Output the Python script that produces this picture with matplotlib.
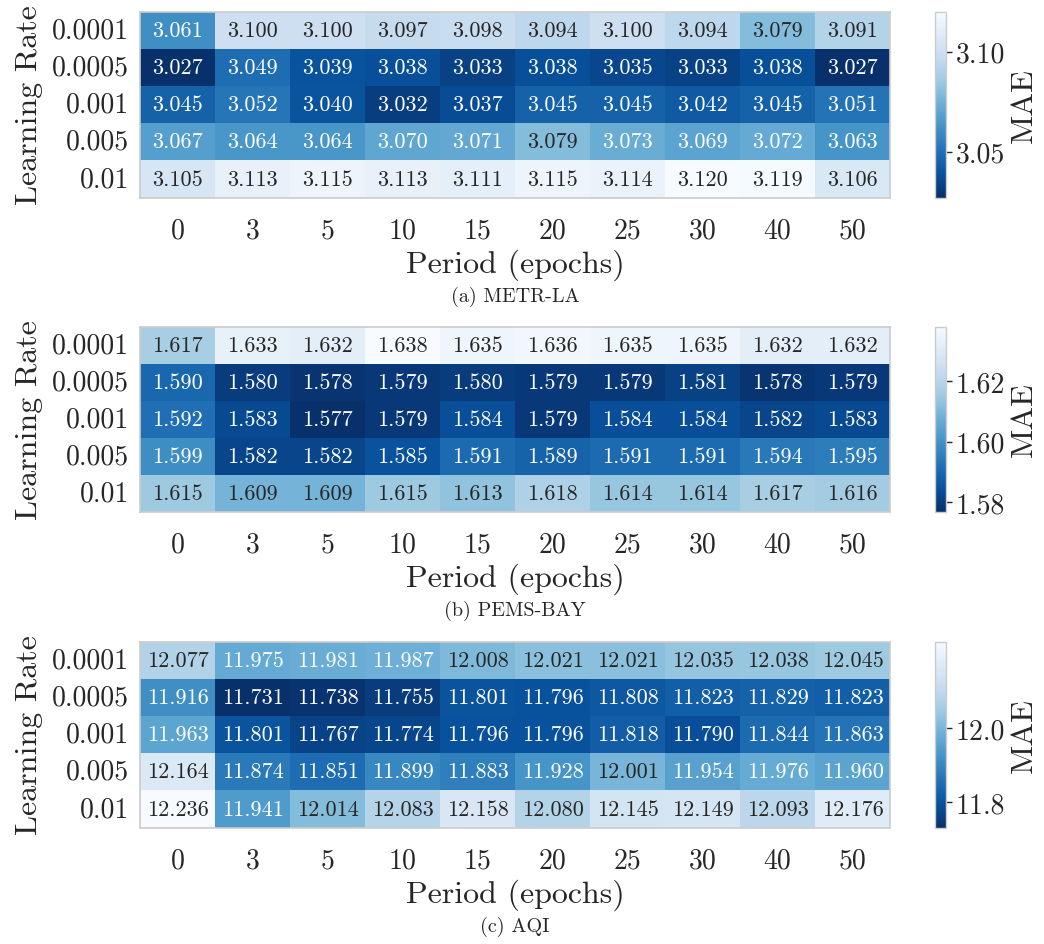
import matplotlib
matplotlib.use("Agg")
import matplotlib.pyplot as plt
import numpy as np
import seaborn as sns

sns.set_style("white")
plt.rcParams["font.family"] = ["cmr10", "DejaVu Serif"]
plt.rcParams["axes.formatter.use_mathtext"] = True
plt.rcParams["text.color"] = "0.15"
plt.rcParams["axes.labelcolor"] = "0.15"
plt.rcParams["xtick.color"] = "0.15"
plt.rcParams["ytick.color"] = "0.15"

periods = ["0", "3", "5", "10", "15", "20", "25", "30", "40", "50"]
learning_rates = ["0.0001", "0.0005", "0.001", "0.005", "0.01"]

metr_la = [
    [3.061, 3.100, 3.100, 3.097, 3.098, 3.094, 3.100, 3.094, 3.079, 3.091],
    [3.027, 3.049, 3.039, 3.038, 3.033, 3.038, 3.035, 3.033, 3.038, 3.027],
    [3.045, 3.052, 3.040, 3.032, 3.037, 3.045, 3.045, 3.042, 3.045, 3.051],
    [3.067, 3.064, 3.064, 3.070, 3.071, 3.079, 3.073, 3.069, 3.072, 3.063],
    [3.105, 3.113, 3.115, 3.113, 3.111, 3.115, 3.114, 3.120, 3.119, 3.106],
]
pems_bay = [
    [1.617, 1.633, 1.632, 1.638, 1.635, 1.636, 1.635, 1.635, 1.632, 1.632],
    [1.590, 1.580, 1.578, 1.579, 1.580, 1.579, 1.579, 1.581, 1.578, 1.579],
    [1.592, 1.583, 1.577, 1.579, 1.584, 1.579, 1.584, 1.584, 1.582, 1.583],
    [1.599, 1.582, 1.582, 1.585, 1.591, 1.589, 1.591, 1.591, 1.594, 1.595],
    [1.615, 1.609, 1.609, 1.615, 1.613, 1.618, 1.614, 1.614, 1.617, 1.616],
]
aqi = [
    [12.077, 11.975, 11.981, 11.987, 12.008, 12.021, 12.021, 12.035, 12.038, 12.045],
    [11.916, 11.731, 11.738, 11.755, 11.801, 11.796, 11.808, 11.823, 11.829, 11.823],
    [11.963, 11.801, 11.767, 11.774, 11.796, 11.796, 11.818, 11.790, 11.844, 11.863],
    [12.164, 11.874, 11.851, 11.899, 11.883, 11.928, 12.001, 11.954, 11.976, 11.960],
    [12.236, 11.941, 12.014, 12.083, 12.158, 12.080, 12.145, 12.149, 12.093, 12.176],
]
captions = ["(a) METR-LA", "(b) PEMS-BAY", "(c) AQI"]
cbar_ticks = [[3.05, 3.10], [1.58, 1.60, 1.62], [11.8, 12.0]]
cbar_fmts = ["%.2f", "%.2f", "%.1f"]

W, H = 1044, 945
fig = plt.figure(figsize=(W / 100, H / 100), dpi=100)

# pixel layout of each panel: (top, bottom)
panel_px = [(12.5, 198.5), (327.5, 512.5), (642.5, 828.5)]
left_px, right_px = 140, 890
cb_left_px, cb_w_px = 935, 11

for data, cap, ticks, fmt, (top, bot) in zip(
    [metr_la, pems_bay, aqi], captions, cbar_ticks, cbar_fmts, panel_px
):
    arr = np.array(data)
    ax = fig.add_axes([left_px / W, 1 - bot / H, (right_px - left_px) / W, (bot - top) / H])
    cax = fig.add_axes([cb_left_px / W, 1 - bot / H, cb_w_px / W, (bot - top) / H])
    sns.heatmap(
        arr, ax=ax, cbar_ax=cax, cmap="Blues_r", annot=True, fmt=".3f",
        annot_kws={"fontsize": 16},
        xticklabels=periods, yticklabels=learning_rates,
        cbar_kws={"ticks": ticks, "format": fmt},
    )
    for sp in ax.spines.values():
        sp.set_visible(True)
        sp.set_color("#cccccc")
        sp.set_linewidth(1.2)
    ax.tick_params(axis="x", length=0, labelsize=20, pad=14)
    ax.tick_params(axis="y", length=0, labelsize=20, pad=8)
    ax.set_yticklabels(learning_rates, rotation=0)
    ax.set_xticklabels(periods, rotation=0)
    ax.set_ylabel("Learning Rate", fontsize=23, labelpad=6)
    ax.set_xlabel("Period (epochs)", fontsize=23, labelpad=4)
    ax.text(0.5, -0.53, cap, transform=ax.transAxes, ha="center", va="center", fontsize=14.5)

    cax.tick_params(labelsize=20, length=4, width=1, color="0.15", pad=3)
    cax.set_ylabel("MAE", fontsize=23, labelpad=4)
    cb = ax.collections[0].colorbar
    cb.outline.set_visible(True)
    cb.outline.set_edgecolor("#cccccc")
    cb.outline.set_linewidth(1.0)

fig.savefig("out.png", dpi=100)
